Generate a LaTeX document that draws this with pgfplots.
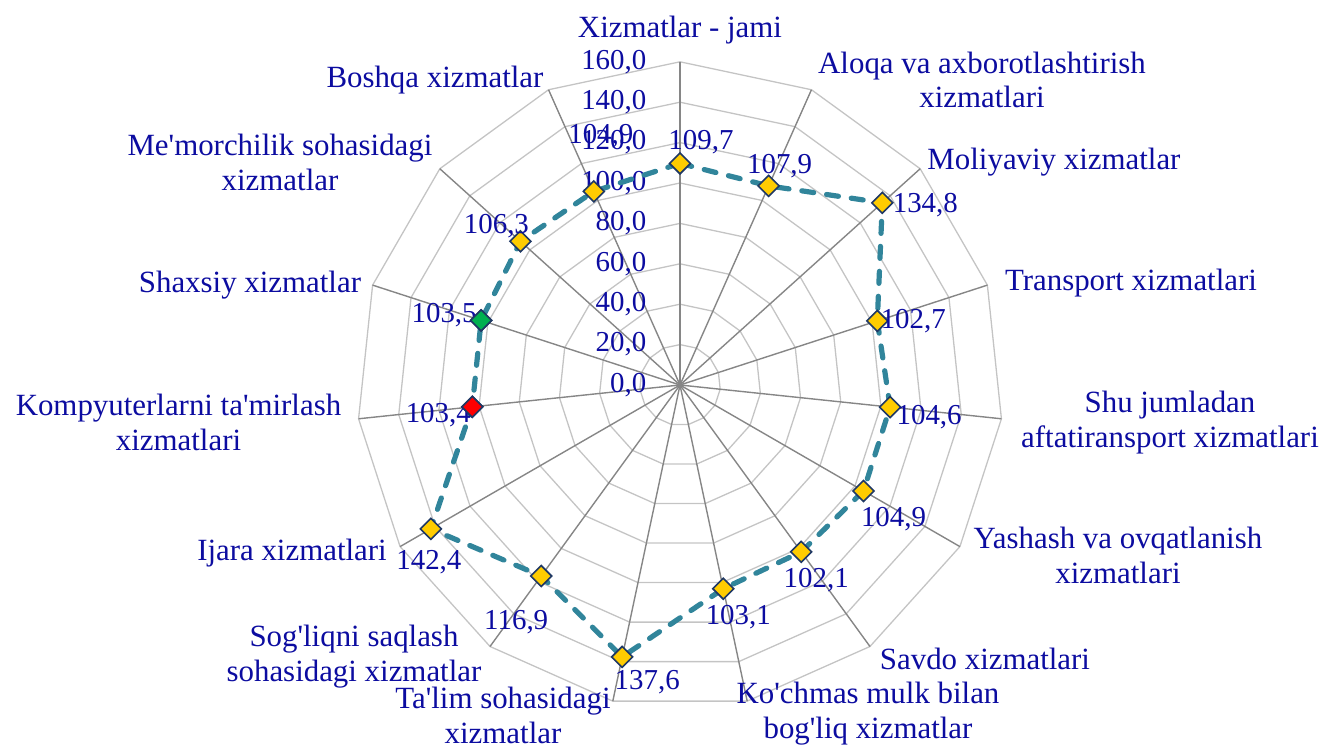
\documentclass[border=0pt]{standalone}
\usepackage{pgfplots}
\usepackage{pgfplotstable}
\pgfplotsset{compat=1.18}
\usepackage{fontspec}
\setmainfont{Liberation Serif}
\definecolor{txtblue}{RGB}{12,12,160}
\definecolor{ringgray}{RGB}{196,196,196}
\definecolor{spokegray}{RGB}{134,134,134}
\definecolor{lineteal}{RGB}{49,133,155}
\definecolor{mkfill}{RGB}{255,204,0}
\definecolor{mkedge}{RGB}{31,56,100}
\definecolor{mkgreen}{RGB}{0,176,80}
\definecolor{mkred}{RGB}{255,0,0}
\newcommand{\ap}{\textquotesingle}

\pgfplotstableread{
ang val lbl dx dy
90 109.7 109,7 10.5 10.5
66 107.9 107,9 5.5 10
42 134.8 134,8 21.5 -1
18 102.7 102,7 18 0
-6 104.6 104,6 19.5 -5
-30 104.9 104,9 15 -14
-54 102.1 102,1 7.5 -14
-78 103.1 103,1 7.5 -14
-102 137.6 137,6 12.5 -12.5
-126 116.9 116,9 -12.5 -23
-150 142.4 142,4 -1 -16.5
-174 103.4 103,4 -17 -4
-198 103.5 103,5 -18.5 2.5
-222 106.3 106,3 -12 7.5
-246 104.9 104,9 3.5 27.5
}\datatable

\begin{document}
\begin{tikzpicture}
\path[use as bounding box] (-340bp,-181bp) rectangle (324.5bp,192.5bp);
\begin{axis}[
  at={(0,0)}, anchor=center,
  scale only axis, width=323.2bp, height=323.2bp,
  xmin=-160, xmax=160, ymin=-160, ymax=160,
  hide axis, clip=false,
]
% rings
\pgfplotsinvokeforeach{20,40,60,80,100,120,140,160}{
  \addplot[ringgray, line width=0.65bp, data cs=polar, forget plot]
  coordinates {(90,#1) (66,#1) (42,#1) (18,#1) (-6,#1) (-30,#1) (-54,#1) (-78,#1)
  (-102,#1) (-126,#1) (-150,#1) (-174,#1) (-198,#1) (-222,#1) (-246,#1) (-270,#1)};
}
% spokes
\pgfplotsinvokeforeach{90,66,42,18,-6,-30,-54,-78,-102,-126,-150,-174,-198,-222,-246}{
  \addplot[spokegray, line width=0.7bp, data cs=polar, forget plot]
  coordinates {(#1,0) (#1,160)};
}
% tick labels
\pgfplotsinvokeforeach{0,20,40,60,80,100,120,140,160}{
  \node[anchor=east, inner sep=0pt, text=txtblue, font=\fontsize{14.5}{17}\selectfont]
  at (axis cs:-16.5,#1) {#1,0};
}
% data
\addplot[lineteal, line width=2.6bp, dash pattern=on 6bp off 6.5bp, line cap=round,
  data cs=polar,
  mark=square*, mark size=3.7bp,
  mark options={solid, rotate=45, fill=mkfill, draw=mkedge, line width=0.8bp},
  nodes near coords, point meta=explicit symbolic,
  visualization depends on={\thisrow{dx}\as\dx},
  visualization depends on={\thisrow{dy}\as\dy},
  every node near coord/.append style={anchor=center, inner sep=0pt,
    xshift=\dx bp, yshift=\dy bp, text=txtblue,
    font=\fontsize{14.5}{17}\selectfont},
] table[x=ang, y=val, meta=lbl] {\datatable} -- cycle;
\addplot[only marks, data cs=polar, mark=square*, mark size=3.7bp,
  mark options={rotate=45, fill=mkred, draw=mkedge, line width=0.8bp}]
  coordinates {(-174,103.4)};
\addplot[only marks, data cs=polar, mark=square*, mark size=3.7bp,
  mark options={rotate=45, fill=mkgreen, draw=mkedge, line width=0.8bp}]
  coordinates {(-198,103.5)};
\end{axis}
\begin{scope}[every node/.style={text=txtblue, align=center, inner sep=0pt,
  font=\fontsize{15.5}{17.5}\selectfont}]
\node at (0bp,177.5bp) {Xizmatlar - jami};
\node at (151bp,152.5bp) {Aloqa va axborotlashtirish\\xizmatlari};
\node at (187bp,111.5bp) {Moliyaviy xizmatlar};
\node at (225.5bp,51bp) {Transport xizmatlari};
\node at (245bp,-18.75bp) {Shu jumladan\\aftatiransport xizmatlari};
\node at (219bp,-85bp) {Yashash va ovqatlanish\\xizmatlari};
\node at (152.5bp,-137bp) {Savdo xizmatlari};
\node at (94bp,-164.5bp) {Ko\ap chmas mulk bilan\\bog\ap liq xizmatlar};
\node at (-88.5bp,-165bp) {Ta\ap lim sohasidagi\\xizmatlar};
\node at (-163bp,-136bp) {Sog\ap liqni saqlash\\sohasidagi xizmatlar};
\node at (-194bp,-84bp) {Ijara xizmatlari};
\node at (-250.75bp,-18.75bp) {Kompyuterlarni ta\ap mirlash\\xizmatlari};
\node at (-215bp,50bp) {Shaxsiy xizmatlar};
\node at (-200bp,111.25bp) {Me\ap morchilik sohasidagi\\xizmatlar};
\node at (-122.5bp,152.5bp) {Boshqa xizmatlar};
\end{scope}
\end{tikzpicture}
\end{document}
